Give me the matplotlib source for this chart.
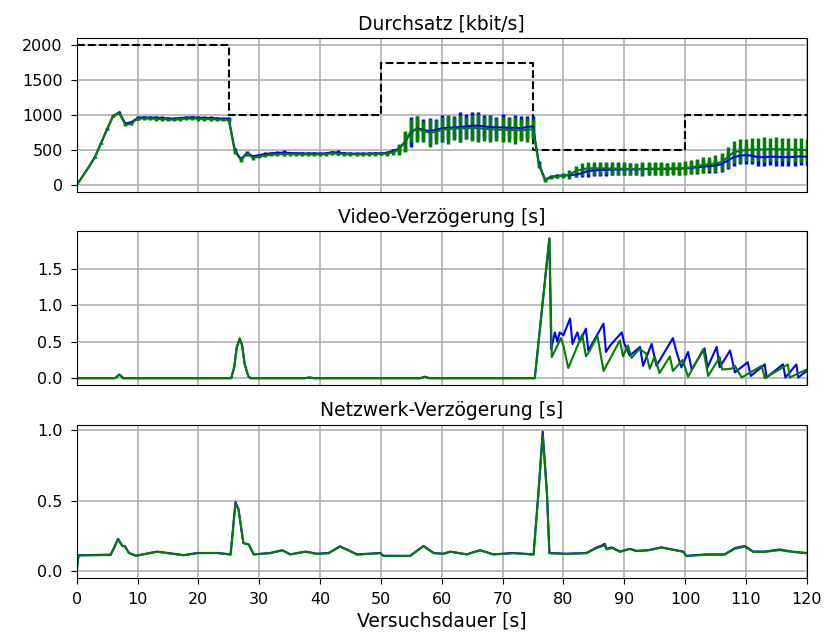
"""Throughput and delay over the course of one test run (two runs: blue/green)."""
import numpy as np
import matplotlib

matplotlib.use("Agg")
import matplotlib.pyplot as plt

# --- bandwidth limit (steps) ---
limit_t = [0, 25, 50, 75, 100, 120]
limit_kbit = [2000, 1000, 1750, 500, 1000, 1000]

# --- throughput, one sample per second ---
rate_t = np.arange(0, 121)
rate_blue = [
    0, 130, 260, 400, 600, 800, 990, 1040, 880, 900,
    960, 970, 965, 965, 960, 955, 950, 960, 965, 970,
    965, 960, 960, 955, 950, 950, 500, 370, 460, 410,
    430, 445, 455, 460, 465, 460, 455, 455, 450, 455,
    450, 455, 470, 465, 455, 450, 450, 450, 450, 455,
    455, 460, 490, 520, 620, 760, 810, 790, 770, 790,
    810, 820, 825, 830, 840, 850, 850, 840, 830, 825,
    825, 820, 820, 815, 830, 840, 300, 80, 120, 130,
    140, 140, 150, 170, 200, 210, 215, 220, 220, 225,
    225, 225, 225, 230, 230, 230, 230, 230, 235, 235,
    240, 245, 255, 265, 270, 280, 300, 350, 400, 420,
    430, 420, 400, 400, 405, 405, 400, 400, 405, 410,
    405,
]
rate_green = [
    0, 130, 260, 400, 600, 800, 990, 1030, 860, 880,
    950, 955, 950, 950, 945, 940, 935, 945, 950, 955,
    950, 945, 945, 940, 935, 930, 480, 360, 450, 390,
    410, 425, 435, 440, 445, 445, 440, 440, 440, 440,
    440, 445, 455, 450, 445, 440, 440, 440, 445, 445,
    450, 450, 470, 510, 630, 780, 800, 770, 750, 760,
    790, 800, 810, 810, 815, 820, 815, 805, 800, 795,
    790, 790, 785, 785, 790, 800, 280, 70, 110, 125,
    135, 150, 200, 225, 240, 240, 240, 240, 235, 235,
    235, 230, 230, 230, 235, 235, 235, 235, 240, 240,
    245, 255, 270, 290, 300, 310, 330, 400, 470, 490,
    500, 505, 510, 510, 515, 515, 510, 510, 505, 505,
    500,
]
rate_blue_err = [
    0, 5, 5, 8, 8, 10, 10, 15, 20, 20,
    25, 20, 25, 20, 25, 20, 25, 20, 25, 25,
    20, 25, 25, 20, 25, 30, 30, 30, 25, 25,
    20, 25, 20, 25, 30, 20, 25, 20, 20, 25,
    20, 25, 20, 30, 20, 20, 25, 20, 20, 25,
    20, 25, 30, 60, 130, 220, 180, 160, 190, 150,
    200, 170, 160, 210, 180, 190, 200, 170, 180, 150,
    190, 160, 180, 170, 160, 150, 40, 20, 25, 30,
    25, 30, 40, 60, 80, 85, 80, 90, 80, 85,
    80, 85, 80, 85, 80, 90, 80, 85, 80, 85,
    80, 85, 90, 95, 90, 100, 110, 120, 130, 120,
    130, 120, 125, 130, 120, 130, 125, 120, 130, 125,
    120,
]
rate_green_err = [
    0, 5, 5, 8, 8, 10, 10, 15, 20, 25,
    25, 30, 25, 30, 25, 30, 25, 30, 25, 30,
    30, 25, 30, 30, 25, 30, 30, 35, 30, 30,
    25, 30, 25, 30, 25, 30, 25, 25, 30, 25,
    25, 25, 30, 25, 25, 30, 25, 25, 30, 25,
    25, 30, 40, 80, 150, 170, 190, 150, 200, 170,
    180, 210, 170, 200, 160, 190, 200, 170, 190, 160,
    180, 170, 190, 160, 170, 140, 40, 20, 25, 30,
    40, 60, 80, 90, 85, 95, 90, 85, 95, 90,
    95, 90, 85, 95, 90, 95, 90, 85, 95, 90,
    95, 100, 100, 110, 100, 120, 130, 150, 160, 170,
    160, 175, 170, 180, 165, 175, 170, 165, 175, 170,
    160,
]

# --- video delay (vertices) ---
video_blue_t = [
    0, 6.3, 7.0, 7.7, 25.4, 25.9, 26.3, 26.8, 27.2, 27.6, 28.2, 28.6,
    37.5, 38.3, 39.0, 56.5, 57.2, 58.0, 75.3, 77.7, 78.0, 78.6, 79.0,
    79.4, 80.0, 81.1, 81.5, 82.3, 82.7, 83.7, 84.1, 86.6, 87.0, 87.7,
    89.6, 90.0, 90.9, 92.6, 93.1, 94.5, 95.3, 98.0, 98.6, 99.4, 100.5,
    101.1, 103.2, 103.7, 105.2, 105.7, 107.4, 108.2, 110.3, 110.8,
    113.1, 113.4, 116.1, 116.5, 118.3, 118.6, 120,
]
video_blue = [
    0, 0, 0.05, 0, 0, 0.15, 0.42, 0.54, 0.45, 0.2, 0.03, 0,
    0, 0.01, 0, 0, 0.02, 0, 0, 1.92, 0.40, 0.63, 0.50,
    0.63, 0.59, 0.82, 0.47, 0.63, 0.50, 0.68, 0.38, 0.75, 0.36, 0.45,
    0.63, 0.48, 0.31, 0.43, 0.17, 0.47, 0.17, 0.55, 0.36, 0.15, 0.36,
    0.12, 0.41, 0.15, 0.43, 0.15, 0.38, 0.08, 0.22, 0.03,
    0.19, 0.01, 0.19, 0.01, 0.19, 0.01, 0.10,
]
video_green_t = [
    0, 6.3, 7.0, 7.7, 25.4, 25.9, 26.3, 26.8, 27.2, 27.6, 28.2, 28.6,
    37.5, 38.3, 39.0, 56.5, 57.2, 58.0, 75.3, 77.7, 78.1, 79.6, 80.0,
    80.8, 83.1, 83.7, 84.2, 85.6, 86.6, 89.3, 89.8, 90.6, 91.2, 92.5,
    93.6, 94.2, 95.0, 95.8, 97.5, 98.0, 99.6, 100.5, 103.0, 103.8,
    105.7, 106.1, 107.6, 108.2, 109.3, 112.6, 113.1, 116.9, 117.2, 120,
]
video_green = [
    0, 0, 0.05, 0, 0, 0.15, 0.42, 0.55, 0.45, 0.2, 0.03, 0,
    0, 0.01, 0, 0, 0.02, 0, 0, 1.92, 0.29, 0.55, 0.45,
    0.14, 0.60, 0.30, 0.36, 0.58, 0.10, 0.52, 0.30, 0.45, 0.28, 0.40,
    0.34, 0.13, 0.30, 0.07, 0.30, 0.10, 0.25, 0.02, 0.40, 0.03,
    0.29, 0.12, 0.13, 0.17, 0.01, 0.17, 0.00, 0.19, 0.01, 0.12,
]

# --- network delay (vertices) ---
net_t = [
    0, 0.3, 5.6, 6.8, 7.5, 7.9, 8.6, 9.7, 13.2, 17.6, 19.8, 23.1, 25.3,
    26.1, 26.6, 27.4, 28.3, 29.1, 31.8, 33.8, 35.1, 37.6, 39.5, 41.4,
    43.3, 46.1, 49.9, 50.4, 54.8, 57.0, 58.7, 60.3, 61.4, 64.1, 66.3,
    68.5, 71.8, 75.1, 75.9, 76.6, 77.3, 77.7, 80.5, 83.8, 85.5, 86.2,
    86.8, 87.1, 88.0, 89.3, 90.9, 92.0, 93.9, 96.1, 99.7, 100.2, 103.5,
    106.5, 108.2, 109.8, 111.2, 113.1, 115.6, 117.5, 119.9, 120,
]
net_blue = [
    0.0, 0.114, 0.118, 0.23, 0.18, 0.18, 0.13, 0.11, 0.14, 0.115, 0.13, 0.13, 0.12,
    0.49, 0.44, 0.20, 0.19, 0.12, 0.13, 0.15, 0.12, 0.14, 0.125, 0.13,
    0.177, 0.12, 0.13, 0.11, 0.11, 0.18, 0.13, 0.125, 0.14, 0.12, 0.15,
    0.12, 0.13, 0.12, 0.56, 0.99, 0.56, 0.13, 0.125, 0.13, 0.17, 0.18,
    0.195, 0.16, 0.17, 0.14, 0.16, 0.145, 0.15, 0.17, 0.14, 0.11, 0.12,
    0.12, 0.165, 0.18, 0.14, 0.14, 0.155, 0.14, 0.13, 0.13,
]
net_green = [
    0.0, 0.112, 0.116, 0.225, 0.18, 0.175, 0.13, 0.11, 0.138, 0.113, 0.128, 0.13, 0.118,
    0.48, 0.44, 0.20, 0.19, 0.12, 0.128, 0.148, 0.12, 0.138, 0.123, 0.128,
    0.175, 0.118, 0.128, 0.11, 0.108, 0.178, 0.128, 0.123, 0.138, 0.12, 0.148,
    0.12, 0.128, 0.118, 0.55, 0.96, 0.55, 0.128, 0.123, 0.128, 0.165, 0.175,
    0.185, 0.155, 0.165, 0.138, 0.158, 0.143, 0.148, 0.168, 0.138, 0.108, 0.118,
    0.118, 0.16, 0.175, 0.138, 0.138, 0.15, 0.138, 0.128, 0.128,
]


def main():
    plt.rcParams.update({
        "font.size": 11.5,
        "axes.titlesize": 13.5,
        "axes.labelsize": 13.5,
        "xtick.major.size": 4.5,
        "ytick.major.size": 4.5,
        "xtick.major.pad": 5.5,
        "ytick.major.pad": 5.5,
    })
    fig, (ax_rate, ax_video, ax_net) = plt.subplots(3, 1, sharex=True, figsize=(8.28, 6.43), dpi=100)
    fig.subplots_adjust(left=0.0926, right=0.9743, bottom=0.1006, top=0.9404, hspace=0.256)

    ax_rate.plot(limit_t, limit_kbit, "k--", lw=1.5, drawstyle="steps-post")
    ax_rate.errorbar(rate_t, rate_blue, yerr=rate_blue_err, color="b", lw=1.5, elinewidth=2.5, capsize=0)
    ax_rate.errorbar(rate_t, rate_green, yerr=rate_green_err, color="g", lw=1.5, elinewidth=2.5, capsize=0)
    ax_rate.set_title("Durchsatz [kbit/s]")
    ax_rate.set_yticks([0, 500, 1000, 1500, 2000])

    ax_video.plot(video_blue_t, video_blue, color="b", lw=1.5)
    ax_video.plot(video_green_t, video_green, color="g", lw=1.5)
    ax_video.set_title("Video-Verzögerung [s]")
    ax_video.set_yticks([0.0, 0.5, 1.0, 1.5])

    ax_net.plot(net_t, net_blue, color="b", lw=1.5)
    ax_net.plot(net_t, net_green, color="g", lw=1.5)
    ax_net.set_title("Netzwerk-Verzögerung [s]")
    ax_net.set_yticks([0.0, 0.5, 1.0])
    ax_net.set_xlabel("Versuchsdauer [s]", labelpad=3)

    for ax in (ax_rate, ax_video, ax_net):
        ax.grid(True, color="#b0b0b0", lw=1.2)
        ax.set_axisbelow(True)
    for ax in (ax_rate, ax_video):
        ax.tick_params(axis="x", bottom=False)
    ax_net.set_xlim(0, 120)
    ax_net.set_xticks(np.arange(0, 121, 10))

    fig.savefig("out.png")


if __name__ == "__main__":
    main()
